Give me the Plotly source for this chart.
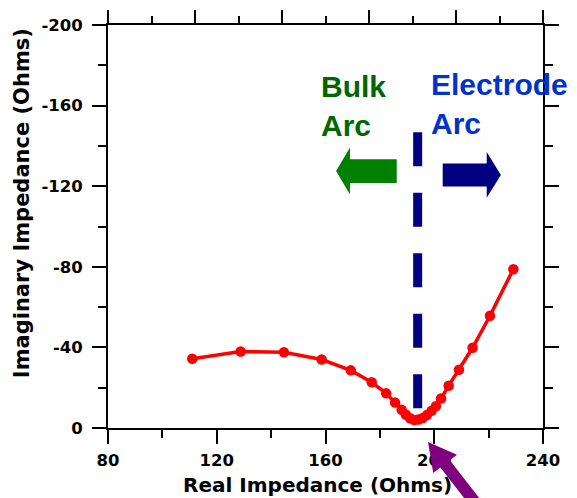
import plotly.graph_objects as go

# Nyquist data: real vs imaginary impedance (Ohms)
z_real = [111.0, 128.8, 144.7, 158.6, 169.3, 177.0, 182.3, 185.6, 188.0, 189.6,
          191.1, 192.6, 194.2, 195.8, 197.3, 199.0, 200.6, 202.5, 205.3, 209.1,
          214.1, 220.5, 229.1]
z_imag = [-34.4, -38.0, -37.6, -34.0, -28.6, -22.7, -17.2, -12.6, -9.0, -6.6,
          -4.8, -4.0, -4.2, -5.0, -6.4, -8.5, -10.8, -14.6, -21.0, -28.9,
          -39.8, -55.7, -78.8]

# boundary between the bulk arc and the electrode arc
arc_boundary = 193.9

x_range = [80, 240]
y_range = [0, -200]
x_ticks = [80, 120, 160, 200, 240]
y_ticks = [0, -40, -80, -120, -160, -200]
y_tick_labels = ["0", "-40", "-80", "-120", "-160", "-200"]

W, H = 577, 498
ML, MR, MT, MB = 108, 34, 22, 70
PW, PH = W - ML - MR, H - MT - MB

AXIS_FONT = dict(family="DejaVu Sans", size=16.5, color="black", weight="bold")
NOTE_FONT = "Liberation Sans, Arial, sans-serif"


def to_paper(px, py):
    """Figure pixel position -> paper coordinates."""
    return (px - ML) / PW, (MT + PH - py) / PH


def path_of(points):
    return "M " + " L ".join(f"{x:.4f},{y:.4f}" for x, y in points) + " Z"


def block_arrow(tip_x, base_x, tail_x, y_mid, head_half, shaft_half):
    """Horizontal block arrow in data coordinates."""
    return path_of([
        (tip_x, y_mid),
        (base_x, y_mid - head_half),
        (base_x, y_mid - shaft_half),
        (tail_x, y_mid - shaft_half),
        (tail_x, y_mid + shaft_half),
        (base_x, y_mid + shaft_half),
        (base_x, y_mid + head_half),
    ])


def slanted_arrow(tip, direction, head_len, head_half, shaft_half, total_len):
    """Block arrow in pixel space, returned as a paper-coordinate path."""
    tx, ty = tip
    dx, dy = direction
    n = (dx * dx + dy * dy) ** 0.5
    dx, dy = dx / n, dy / n
    nx, ny = dy, -dx
    bx, by = tx + head_len * dx, ty + head_len * dy
    ex, ey = tx + total_len * dx, ty + total_len * dy
    pts = [
        (tx, ty),
        (bx + head_half * nx, by + head_half * ny),
        (bx + shaft_half * nx, by + shaft_half * ny),
        (ex + shaft_half * nx, ey + shaft_half * ny),
        (ex - shaft_half * nx, ey - shaft_half * ny),
        (bx - shaft_half * nx, by - shaft_half * ny),
        (bx - head_half * nx, by - head_half * ny),
    ]
    return path_of([to_paper(x, y) for x, y in pts])


fig = go.Figure()

fig.add_trace(go.Scatter(
    x=z_real, y=z_imag, mode="lines+markers",
    line=dict(color="#FF0000", width=3.5),
    marker=dict(color="#FF0000", size=10.5),
    cliponaxis=False, showlegend=False,
))

# invisible trace to activate the top axis
fig.add_trace(go.Scatter(x=[None], y=[None], xaxis="x2", yaxis="y",
                         showlegend=False, hoverinfo="skip"))

shapes = [
    # dashed divider
    dict(type="line", xref="x", yref="paper",
         x0=arc_boundary, x1=arc_boundary,
         y0=to_paper(0, 130)[1], y1=to_paper(0, 434)[1],
         line=dict(color="#000080", width=9, dash="34px,26.5px"), layer="above"),
    # bulk arc arrow (left)
    dict(type="path", xref="x", yref="y",
         path=block_arrow(163.9, 169.0, 186.2, -127.5, 11.65, 5.9),
         fillcolor="#008000", line=dict(width=0), layer="above"),
    # electrode arc arrow (right)
    dict(type="path", xref="x", yref="y",
         path=block_arrow(224.5, 219.3, 203.1, -125.6, 11.35, 5.7),
         fillcolor="#000080", line=dict(width=0), layer="above"),
    # purple pointer toward the minimum
    dict(type="path", xref="paper", yref="paper",
         path=slanted_arrow((428, 442), (0.61, 0.79), 28, 15, 6, 95),
         fillcolor="#800080", line=dict(width=0), layer="above"),
]

annotations = [
    dict(text="Bulk<br>Arc", xref="x", yref="y", x=157.6, y=-159.6,
         xanchor="left", yanchor="middle", align="left", showarrow=False,
         font=dict(family=NOTE_FONT, size=30, color="#006600", weight="bold")),
    dict(text="Electrode<br>Arc", xref="x", yref="y", x=198.2, y=-160.6,
         xanchor="left", yanchor="middle", align="left", showarrow=False,
         font=dict(family=NOTE_FONT, size=30, color="#0033CC", weight="bold")),
    dict(text="Real Impedance (Ohms)", xref="paper", yref="paper",
         x=to_paper(317, 0)[0], y=to_paper(0, 485)[1],
         xanchor="center", yanchor="middle", showarrow=False,
         font=dict(family="DejaVu Sans", size=20, color="black", weight="bold")),
    dict(text="Imaginary Impedance (Ohms)", xref="paper", yref="paper",
         x=to_paper(22, 0)[0], y=to_paper(0, 201.5)[1], textangle=-90,
         xanchor="center", yanchor="middle", showarrow=False,
         font=dict(family="DejaVu Sans", size=21, color="black", weight="bold")),
]

axis_common = dict(showgrid=False, zeroline=False, showline=True,
                   linecolor="black", linewidth=2, ticks="outside",
                   tickcolor="black", tickwidth=2)

fig.update_layout(
    width=W, height=H, autosize=False,
    margin=dict(l=ML, r=MR, t=MT, b=MB, pad=0),
    paper_bgcolor="white", plot_bgcolor="white",
    xaxis=dict(range=x_range, tickvals=x_ticks, ticklen=14,
               mirror=True, tickfont=AXIS_FONT, ticklabelstandoff=2,
               minor=dict(dtick=20, tick0=80, ticklen=8, ticks="outside",
                          tickcolor="black", tickwidth=2),
               **axis_common),
    xaxis2=dict(range=x_range, overlaying="x", side="top", tick0=80, dtick=32,
                ticklen=13, showticklabels=False,
                minor=dict(dtick=16, tick0=80, ticklen=7, ticks="outside",
                           tickcolor="black", tickwidth=2),
                **axis_common),
    yaxis=dict(range=y_range, tickvals=y_ticks, ticktext=y_tick_labels,
               ticklen=14, mirror="ticks", tickfont=AXIS_FONT,
               ticklabelstandoff=6,
               minor=dict(dtick=20, tick0=0, ticklen=8, ticks="outside",
                          tickcolor="black", tickwidth=2),
               **axis_common),
    shapes=shapes,
    annotations=annotations,
)

fig.write_html("out.html")
